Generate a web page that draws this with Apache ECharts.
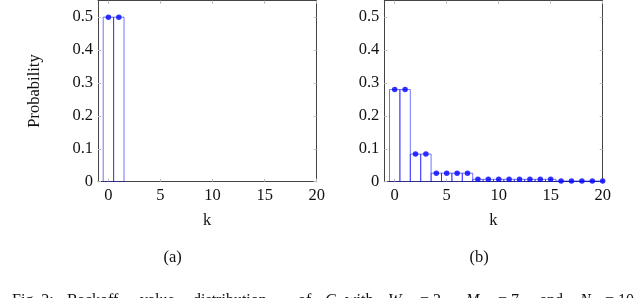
<!DOCTYPE html>
<html>
<head>
<meta charset="utf-8">
<script src="https://cdn.jsdelivr.net/npm/echarts@6/dist/echarts.min.js"></script>
<style>
html,body{margin:0;padding:0;background:#fff;}
#c{width:640px;height:298px;}
</style>
</head>
<body>
<div id="c"></div>
<script>
// ---- data ----
const kA = [0, 1];
const pA = [0.5, 0.5];
const kB = [0,1,2,3,4,5,6,7,8,9,10,11,12,13,14,15,16,17,18,19,20];
const pB = [0.28,0.28,0.084,0.084,0.026,0.026,0.026,0.026,
            0.0073,0.0073,0.0073,0.0073,0.0073,0.0073,0.0073,0.0073,
            0.002,0.002,0.002,0.002,0.002];
const xTicks = [0, 5, 10, 15, 20];
const yTicks = [0, 0.1, 0.2, 0.3, 0.4, 0.5];

const FONT = '"Liberation Serif", "Times New Roman", serif';
const FS = 16.5;
const frameColor = '#444';
const tickColor = '#bdbdbd';

function pairs(ks, ps){ return ks.map((k,i)=>[k, ps[i]]); }

function xAx(gi, pos, labels){
  return {
    type:'value', gridIndex:gi, position:pos, min:-1, max:20,
    axisLine:{show:true, onZero:false, lineStyle:{color:frameColor, width:1}},
    axisTick:{show:true, inside:true, length:3, customValues:xTicks, lineStyle:{color:tickColor}},
    axisLabel:{show:labels, customValues:xTicks, margin:5, color:'#111', fontFamily:FONT, fontSize:FS},
    splitLine:{show:false}
  };
}
function yAx(gi, pos, labels){
  return {
    type:'value', gridIndex:gi, position:pos, min:0, max:0.55,
    axisLine:{show:true, onZero:false, lineStyle:{color:frameColor, width:1}},
    axisTick:{show:true, inside:true, length:3, customValues:yTicks, lineStyle:{color:tickColor}},
    axisLabel:{show:labels, customValues:yTicks, margin:5, color:'#111', fontFamily:FONT, fontSize:FS,
               formatter:(v)=> (Math.round(v*10)/10).toString()},
    splitLine:{show:false}
  };
}

function barRender(params, api){
  const k = api.value(0), v = api.value(1);
  const p0 = api.coord([k-0.5, 0]);
  const p1 = api.coord([k+0.5, v]);
  return {
    type:'rect',
    shape:{x:p0[0], y:p1[1], width:p1[0]-p0[0], height:p0[1]-p1[1]},
    style:{fill:'none', stroke:'rgba(0,0,255,0.55)', lineWidth:1}
  };
}

function seriesFor(xi, yi, data){
  return [
    {type:'custom', xAxisIndex:xi, yAxisIndex:yi, data:data, renderItem:barRender, clip:true, silent:true},
    {type:'scatter', xAxisIndex:xi, yAxisIndex:yi, data:data, symbol:'circle', symbolSize:5.5,
     itemStyle:{color:'#0000ff'}, clip:false, silent:true}
  ];
}

function txt(x, y, s, extra){
  return Object.assign({type:'text', x:x, y:y, silent:true,
    style:{text:s, fill:'#111', font: FS+'px '+FONT, align:'center', verticalAlign:'middle'}}, extra||{});
}

// caption words (only the top part is visible at the bottom edge)
const capTop = 292.5;
function cap(x, s, italic){
  return {type:'text', x:x, y:capTop, silent:true,
    style:{text:s, fill:'#111', font:(italic?'italic ':'')+'16px '+FONT, align:'left', verticalAlign:'top'}};
}

const chart = echarts.init(document.getElementById('c'), null, {renderer:'canvas'});
chart.setOption({
  animation:false,
  backgroundColor:'#fff',
  grid:[
    {left:98, top:0.7, width:218.7, height:181, containLabel:false, outerBoundsMode:'none'},
    {left:384.3, top:0.7, width:218.4, height:181, containLabel:false, outerBoundsMode:'none'}
  ],
  xAxis:[ xAx(0,'bottom',true), xAx(0,'top',false), xAx(1,'bottom',true), xAx(1,'top',false) ],
  yAxis:[ yAx(0,'left',true), yAx(0,'right',false), yAx(1,'left',true), yAx(1,'right',false) ],
  series:[].concat(seriesFor(0,0,pairs(kA,pA)), seriesFor(2,2,pairs(kB,pB))),
  graphic:[
    txt(35, 91, 'Probability', {rotation:Math.PI/2}),
    txt(207, 221, 'k'),
    txt(493.3, 221, 'k'),
    txt(172.7, 258, '(a)'),
    txt(479, 258, '(b)'),
    cap(12, 'Fig. 2:'),
    cap(67, 'Backoff'),
    cap(140, 'value'),
    cap(193, 'distribution'),
    cap(298, 'of'),
    cap(325, 'C', true),
    cap(345, 'with'),
    cap(388, 'W', true),
    cap(420, '= 2,'),
    cap(466, 'M', true),
    cap(498, '= 7'),
    cap(540, 'and'),
    cap(580, 'N', true),
    cap(605, '= 10')
  ]
});
</script>
</body>
</html>
